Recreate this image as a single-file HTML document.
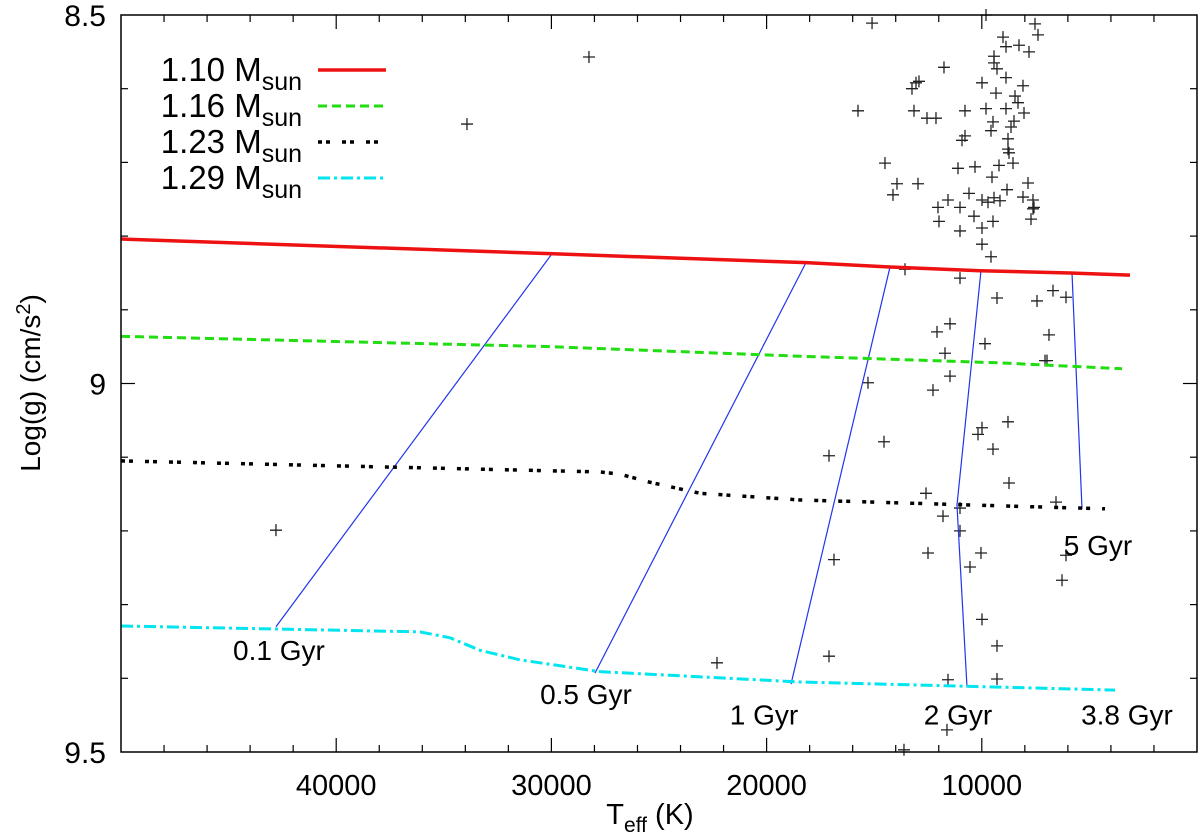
<!DOCTYPE html>
<html><head><meta charset="utf-8"><style>
body{margin:0;background:#fff;}
svg{display:block;font-family:"Liberation Sans",Arial,sans-serif;}
</style></head><body>
<svg id="chart" width="1200" height="832" viewBox="0 0 1200 832" xmlns="http://www.w3.org/2000/svg"></svg>
<script>
// ---- data ----
const xTicks=[40000,30000,20000,10000];
const yTicks=[8.5,9,9.5];
const yTickLabels=["8.5","9","9.5"];
const masses=["1.10","1.16","1.23","1.29"];
const red110T=[50000,29926,18170,14266,10084,5902,3113];
const red110G=[8.804,8.824,8.836,8.842,8.847,8.850,8.853];
const green116T=[50000,30066,18449,9154,3485];
const green116G=[8.936,8.950,8.963,8.972,8.980];
const black123T=[50000,27742,26812,25418,23094,18449,13802,9154,4275];
const black123G=[9.105,9.120,9.123,9.134,9.149,9.158,9.162,9.166,9.170];
const cyan129T=[50000,36106,34712,33318,31459,27742,18449,9154,3810];
const cyan129G=[9.329,9.337,9.345,9.362,9.375,9.391,9.405,9.412,9.416];
const isoAges=["0.1 Gyr","0.5 Gyr","1 Gyr","2 Gyr","5 Gyr"];
const isoT=[[29973,42799],[18170,27975],[14266,18867],[10038,11153,10688],[5809,5344]];
const isoG=[[8.824,9.330],[8.836,9.393],[8.842,9.408],[8.847,9.165,9.412],[8.850,9.170]];
const isoLabelT=[42660,28393,20121,11106,3253,4600];
const isoLabelG=[9.375,9.435,9.463,9.463,9.463,9.233];
const isoLabelText=["0.1 Gyr","0.5 Gyr","1 Gyr","2 Gyr","3.8 Gyr","5 Gyr"];
const starT=[15100,7528,7389,9015,8876,8272,7807,9433,9433,9294,11757,8876,9991,8086,12919,13058,13244,9340,8458,8318,15753,13151,10781,9805,8876,8039,12547,12129,9480,8504,9573,8643,10781,10920,8783,8783,8736,14499,11106,10316,9201,8550,9526,13941,12965,7853,14127,10595,8829,11571,9991,9712,9433,9155,8086,7621,12036,11013,7621,7575,7714,11989,10363,9480,11013,9991,9991,28254,33923,9805,42799,22305,9573,13569,11013,9294,7435,6692,6088,11478,12082,9852,6878,11710,7063,6970,11478,15289,12268,8783,9991,10177,9480,14545,17101,8736,12593,6552,11013,11803,11013,12500,10038,10549,16869,6088,6273,9991,9294,17101,11571,9294,11618,13616];
const starG=[8.511,8.512,8.527,8.530,8.543,8.541,8.550,8.556,8.565,8.573,8.571,8.585,8.592,8.596,8.590,8.592,8.600,8.606,8.610,8.619,8.630,8.630,8.630,8.627,8.627,8.633,8.640,8.640,8.645,8.644,8.657,8.652,8.664,8.670,8.668,8.682,8.687,8.701,8.708,8.706,8.704,8.701,8.720,8.729,8.729,8.728,8.744,8.742,8.737,8.751,8.751,8.754,8.748,8.752,8.747,8.751,8.761,8.761,8.763,8.761,8.777,8.780,8.773,8.780,8.793,8.789,8.811,8.557,8.648,8.500,9.199,9.379,8.828,8.845,8.857,8.884,8.888,8.874,8.883,8.919,8.930,8.946,8.934,8.959,8.969,8.969,8.990,8.999,9.009,9.052,9.060,9.069,9.089,9.079,9.098,9.135,9.149,9.161,9.169,9.180,9.200,9.230,9.230,9.249,9.239,9.233,9.267,9.320,9.356,9.370,9.402,9.401,9.470,9.497];

// ---- layout ----
const L=121,R=1197,T0=15,B=752;
const xS=t=>L+(50000-t)/50000*(R-L);
const yS=g=>T0+(g-8.5)/1.0*(B-T0);
const NS="http://www.w3.org/2000/svg";
const svg=document.getElementById('chart');
function mk(tag,attrs,parent){const e=document.createElementNS(NS,tag);for(const k in attrs)e.setAttribute(k,attrs[k]);(parent||svg).appendChild(e);return e;}

// ticks
const axes=mk('g',{});


for(let t=48000;t>0;t-=2000){
  const x=xS(t);const len=(t%10000===0)?14:7;
  mk('line',{x1:x,x2:x,y1:B,y2:B-len,stroke:'#000','stroke-width':1.2},axes);
  mk('line',{x1:x,x2:x,y1:T0,y2:T0+len,stroke:'#000','stroke-width':1.2},axes);
}
for(let i=1;i<10;i++){
  const y=yS(8.5+i*0.1);const len=(i===5)?14:7;
  mk('line',{x1:L,x2:L+len,y1:y,y2:y,stroke:'#000','stroke-width':1.2},axes);
  mk('line',{x1:R,x2:R-len,y1:y,y2:y,stroke:'#000','stroke-width':1.2},axes);
}
xTicks.forEach(t=>{
  const tx=mk('text',{x:xS(t),y:795,'text-anchor':'middle','font-size':29},axes);
  tx.textContent=String(t);
  
  
});
yTicks.forEach((g,i)=>{
  const tx=mk('text',{x:106,y:yS(g)+11,'text-anchor':'end','font-size':30},axes);
  tx.textContent=yTickLabels[i];
  
  
});
// titles
const xt=mk('text',{x:650,y:824,'text-anchor':'middle','font-size':29});
xt.innerHTML='T<tspan font-size="21" dy="8">eff</tspan><tspan dy="-8"> (K)</tspan>';


const yt=mk('text',{x:0,y:0,'text-anchor':'middle','font-size':28,transform:'translate(40,383) rotate(-90)'});
yt.innerHTML='Log(g) (cm/s<tspan font-size="20" dy="-10">2</tspan><tspan dy="10">)</tspan>';



// scatter
const sg=mk('g',{stroke:'#222','stroke-width':1.3});


starT.forEach((t,i)=>{
  const x=xS(t),y=yS(starG[i]);
  const p=mk('path',{d:`M${x-6},${y}H${x+6}M${x},${y-6}V${y+6}`},sg);
  
  
});

// isochrones
isoT.forEach((ts,i)=>{
  const pts=ts.map((t,j)=>xS(t)+','+yS(isoG[i][j])).join(' ');
  const pl=mk('polyline',{points:pts,fill:'none',stroke:'#2233ee','stroke-width':1.2});
  
  
});

// tracks
const tracks=[[red110T,red110G,'#ee1111',3.5,''],[green116T,green116G,'#22dd11',3,'9,5'],[black123T,black123G,'#000',3.5,'4,4,4,12'],[cyan129T,cyan129G,'#00e5ee',3,'12,4,3,4']];
tracks.forEach((tr,i)=>{
  const pts=tr[0].map((t,j)=>xS(t)+','+yS(tr[1][j])).join(' ');
  const pl=mk('polyline',{points:pts,fill:'none',stroke:tr[2],'stroke-width':tr[3]});
  if(tr[4])pl.setAttribute('stroke-dasharray',tr[4]);
  
  
});

// iso labels
isoLabelText.forEach((s,i)=>{
  const tx=mk('text',{x:xS(isoLabelT[i]),y:yS(isoLabelG[i]),'text-anchor':'middle','font-size':28});
  tx.textContent=s;
  
  
});

// legend
const lg=mk('g',{});


masses.forEach((m,i)=>{
  const y=70+i*36;
  const tx=mk('text',{x:302,y:y+11,'text-anchor':'end','font-size':33},lg);
  tx.innerHTML=m+' M<tspan font-size="25" dy="9">sun</tspan>';
  
  
  const ln=mk('line',{x1:318,x2:386,y1:y,y2:y,stroke:tracks[i][2],'stroke-width':tracks[i][3]},lg);
  if(tracks[i][4])ln.setAttribute('stroke-dasharray',tracks[i][4]);
  
  
});

// frame
const fr=mk('rect',{x:L,y:T0,width:R-L,height:B-T0,fill:'none',stroke:'#000','stroke-width':1.5});


</script>
</body></html>
